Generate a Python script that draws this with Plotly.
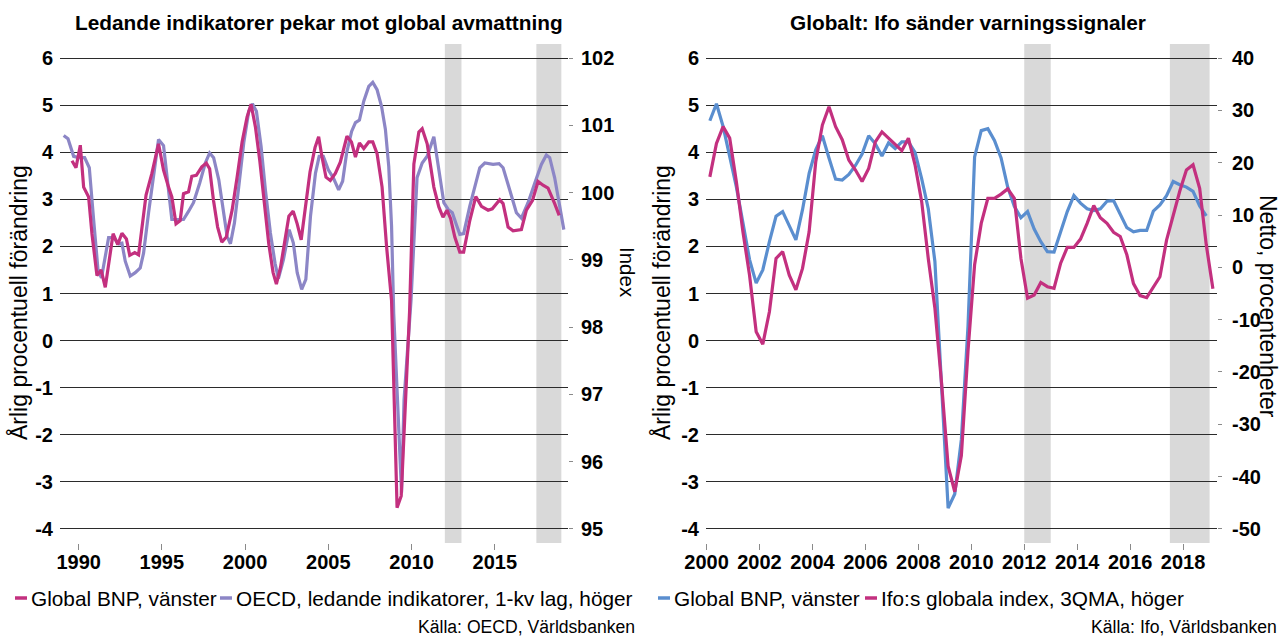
import pandas as pd
import plotly.graph_objects as go

W, H = 1282, 637

# ---------------------------------------------------------------------------
# Left panel: global GDP (annual % change) and OECD leading indicators
# (index, lagged one quarter). Points are (decimal year, value).
# ---------------------------------------------------------------------------
gdp_world_left = [
    (1989.60, 3.82), (1989.84, 3.67), (1990.10, 4.15), (1990.30, 3.26), (1990.60, 3.05),
    (1990.80, 2.27), (1991.10, 1.38), (1991.35, 1.50), (1991.60, 1.13), (1992.07, 2.27),
    (1992.35, 2.04), (1992.60, 2.28), (1992.87, 2.16), (1993.07, 1.81), (1993.37, 1.87),
    (1993.60, 1.82), (1994.05, 3.09), (1994.40, 3.55), (1994.80, 4.18), (1995.10, 3.62),
    (1995.40, 3.26), (1995.60, 3.05), (1995.85, 2.48), (1996.10, 2.55), (1996.30, 3.12),
    (1996.60, 3.16), (1996.80, 3.49), (1997.07, 3.51), (1997.40, 3.69), (1997.67, 3.77),
    (1997.87, 3.65), (1998.10, 2.98), (1998.35, 2.41), (1998.60, 2.09), (1998.87, 2.20),
    (1999.22, 2.77), (1999.52, 3.47), (1999.82, 4.22), (2000.12, 4.75), (2000.36, 5.02),
    (2000.62, 4.54), (2000.88, 3.83), (2001.16, 2.91), (2001.42, 2.06), (2001.68, 1.45),
    (2001.88, 1.20), (2002.13, 1.56), (2002.37, 2.13), (2002.63, 2.64), (2002.89, 2.75),
    (2003.13, 2.48), (2003.37, 2.14), (2003.63, 2.91), (2003.90, 3.58), (2004.20, 4.10),
    (2004.42, 4.33), (2004.62, 3.90), (2004.86, 3.47), (2005.12, 3.40), (2005.42, 3.55),
    (2005.72, 3.79), (2006.12, 4.34), (2006.39, 4.22), (2006.63, 3.90), (2006.87, 4.20),
    (2007.13, 4.08), (2007.43, 4.22), (2007.67, 4.22), (2007.93, 3.97), (2008.23, 3.26),
    (2008.50, 2.00), (2008.80, 0.85), (2009.13, -3.55), (2009.38, -3.30), (2009.88, 0.60),
    (2010.14, 3.75), (2010.44, 4.43), (2010.64, 4.50), (2010.94, 4.18), (2011.34, 3.26),
    (2011.64, 2.84), (2011.89, 2.62), (2012.13, 2.77), (2012.35, 2.59), (2012.60, 2.20),
    (2012.90, 1.88), (2013.13, 1.88), (2013.50, 2.55), (2013.86, 3.06), (2014.20, 2.85),
    (2014.60, 2.77), (2014.85, 2.80), (2015.30, 2.99), (2015.50, 2.91), (2015.80, 2.41),
    (2016.10, 2.33), (2016.60, 2.36), (2016.90, 2.77), (2017.27, 2.98), (2017.60, 3.38),
    (2017.90, 3.30), (2018.20, 3.24), (2018.60, 2.91), (2018.87, 2.66),
]

oecd_cli_lag = [
    (1989.10, 100.85), (1989.36, 100.80), (1989.70, 100.54), (1990.00, 100.52), (1990.36, 100.52),
    (1990.64, 100.37), (1990.90, 99.60), (1991.16, 98.86), (1991.37, 98.73), (1991.80, 99.33),
    (1992.10, 99.33), (1992.40, 99.24), (1992.60, 99.25), (1992.80, 98.98), (1993.10, 98.76),
    (1993.40, 98.81), (1993.70, 98.88), (1993.90, 99.10), (1994.20, 99.70), (1994.80, 100.79),
    (1995.10, 100.70), (1995.30, 100.29), (1995.60, 99.60), (1995.90, 99.60), (1996.30, 99.60),
    (1996.60, 99.72), (1996.90, 99.85), (1997.27, 100.14), (1997.61, 100.44), (1997.87, 100.59),
    (1998.11, 100.52), (1998.42, 100.19), (1998.67, 99.75), (1998.92, 99.35), (1999.12, 99.24),
    (1999.36, 99.55), (1999.62, 100.09), (1999.92, 100.74), (2000.22, 101.21), (2000.44, 101.32),
    (2000.68, 101.21), (2000.96, 100.69), (2001.22, 100.04), (2001.52, 99.40), (2001.80, 98.95),
    (2002.00, 98.72), (2002.30, 99.00), (2002.65, 99.45), (2002.90, 99.25), (2003.13, 98.81),
    (2003.40, 98.56), (2003.65, 98.71), (2003.93, 99.65), (2004.23, 100.29), (2004.45, 100.54),
    (2004.70, 100.54), (2005.00, 100.34), (2005.30, 100.22), (2005.62, 100.04), (2005.86, 100.17),
    (2006.10, 100.59), (2006.40, 100.91), (2006.63, 101.04), (2006.87, 101.08), (2007.13, 101.36),
    (2007.43, 101.58), (2007.67, 101.64), (2007.93, 101.53), (2008.20, 101.28), (2008.43, 100.94),
    (2008.63, 100.39), (2008.80, 99.50), (2008.93, 98.20), (2009.15, 96.90), (2009.40, 95.54),
    (2009.55, 96.92), (2009.97, 98.40), (2010.33, 100.22), (2010.64, 100.44), (2010.94, 100.54),
    (2011.34, 100.83), (2011.64, 100.34), (2011.94, 99.85), (2012.20, 99.75), (2012.45, 99.70),
    (2012.70, 99.52), (2012.90, 99.38), (2013.13, 99.39), (2013.50, 99.80), (2013.86, 100.14),
    (2014.10, 100.37), (2014.40, 100.44), (2014.90, 100.42), (2015.26, 100.43), (2015.50, 100.37),
    (2015.90, 100.04), (2016.30, 99.70), (2016.60, 99.62), (2017.00, 99.85), (2017.40, 100.14),
    (2017.80, 100.42), (2018.10, 100.56), (2018.30, 100.52), (2018.60, 100.22), (2018.90, 99.80),
    (2019.15, 99.45),
]

# ---------------------------------------------------------------------------
# Right panel: quarterly series starting 2000Q1
# ---------------------------------------------------------------------------
right_first_quarter = "2000Q1"

gdp_world_right = [
    4.67, 5.03, 4.55, 3.90, 3.27, 2.50, 1.72, 1.22, 1.50, 2.10,
    2.64, 2.74, 2.45, 2.14, 2.78, 3.55, 4.05, 4.35, 3.88, 3.43,
    3.41, 3.53, 3.72, 3.96, 4.35, 4.18, 3.92, 4.20, 4.08, 4.22,
    4.22, 4.00, 3.44, 2.80, 1.68, -0.90, -3.56, -3.26, -2.10, 0.30,
    3.90, 4.46, 4.50, 4.25, 3.88, 3.26, 2.85, 2.61, 2.74, 2.37,
    2.10, 1.89, 1.88, 2.31, 2.74, 3.08, 2.92, 2.80, 2.76, 2.80,
    2.96, 2.97, 2.67, 2.40, 2.31, 2.34, 2.34, 2.75, 2.88, 3.08,
    3.38, 3.31, 3.26, 3.17, 2.86, 2.65,
]

ifo_world_3qma = [
    17.3, 23.7, 26.9, 24.7, 16.4, 6.8, -1.5, -12.3, -14.7, -8.5,
    1.7, 3.0, -1.5, -4.3, -0.2, 6.8, 20.2, 27.2, 30.7, 26.9,
    24.4, 20.5, 18.6, 16.4, 18.9, 24.0, 25.9, 24.7, 23.3, 22.3,
    24.7, 19.6, 12.6, 1.7, -7.8, -22.0, -38.0, -42.9, -36.0, -16.0,
    0.5, 8.4, 13.2, 13.2, 14.0, 15.0, 13.2, 1.7, -5.9, -5.3,
    -2.9, -3.7, -4.0, 0.8, 3.8, 3.8, 5.4, 8.4, 11.8, 9.5,
    8.4, 6.7, 5.9, 2.4, -3.1, -5.4, -5.8, -3.9, -1.8, 5.2,
    9.9, 14.6, 18.6, 19.6, 15.1, 4.3, -4.1,
]

# Shaded slowdown periods (decimal years)
slowdown_periods = [(2012.0, 2013.0), (2017.5, 2019.0)]

# Axis ticks
left_year_ticks = [1990, 1995, 2000, 2005, 2010, 2015]
right_year_ticks = [2000, 2002, 2004, 2006, 2008, 2010, 2012, 2014, 2016, 2018]
gdp_ticks = [-4, -3, -2, -1, 0, 1, 2, 3, 4, 5, 6]
index_ticks = [95, 96, 97, 98, 99, 100, 101, 102]
netto_ticks = [-50, -40, -30, -20, -10, 0, 10, 20, 30, 40]

# Colours
PINK = "#C3307F"
LAVENDER = "#8C86C6"
BLUE = "#5A8ECF"
BAND = "#D9D9D9"
GRID = "#2b2b2b"
TICK = "#8a8a8a"

FONT = "Liberation Sans, Arial, sans-serif"


def quarter_mid_years(first, n):
    periods = pd.period_range(first, periods=n, freq="Q")
    return [p.year + (p.quarter - 0.5) / 4 for p in periods]


def hyphen_labels(values):
    # plain hyphen-minus for negative tick labels
    return [str(v) for v in values]


# Both panels share the same GDP scale; the secondary axes are tied to it
GDP_RANGE = [-4.3, 6.3]
# index = 95 + (gdp + 4) * 0.7  and  netto = -50 + (gdp + 4) * 9
INDEX_RANGE = [95 + (GDP_RANGE[0] + 4) * 0.7, 95 + (GDP_RANGE[1] + 4) * 0.7]
NETTO_RANGE = [-50 + (GDP_RANGE[0] + 4) * 9, -50 + (GDP_RANGE[1] + 4) * 9]


def px_x(px):
    return px / W


def px_y(py):
    return 1 - py / H


Y_DOMAIN = [px_y(543), px_y(44)]
LEFT_DOMAIN = [px_x(60), px_x(568)]
RIGHT_DOMAIN = [px_x(706), px_x(1217)]

fig = go.Figure()

# Left panel traces (CLI on the base axis so GDP is drawn on top)
fig.add_trace(go.Scatter(
    x=[d for d, _ in oecd_cli_lag], y=[v for _, v in oecd_cli_lag],
    xaxis="x", yaxis="y", mode="lines",
    line=dict(color=LAVENDER, width=3.2), name="OECD, ledande indikatorer, 1-kv lag, höger",
    showlegend=False,
))
fig.add_trace(go.Scatter(
    x=[d for d, _ in gdp_world_left], y=[v for _, v in gdp_world_left],
    xaxis="x", yaxis="y2", mode="lines",
    line=dict(color=PINK, width=3.2), name="Global BNP, vänster",
    showlegend=False,
))

# Right panel traces
fig.add_trace(go.Scatter(
    x=quarter_mid_years(right_first_quarter, len(gdp_world_right)), y=gdp_world_right,
    xaxis="x2", yaxis="y3", mode="lines",
    line=dict(color=BLUE, width=3.2), name="Global BNP, vänster",
    showlegend=False,
))
fig.add_trace(go.Scatter(
    x=quarter_mid_years(right_first_quarter, len(ifo_world_3qma)), y=ifo_world_3qma,
    xaxis="x2", yaxis="y4", mode="lines",
    line=dict(color=PINK, width=3.2), name="Ifo:s globala index, 3QMA, höger",
    showlegend=False,
))

# Shaded periods in both panels
shapes = []
for xref, yref in (("x", "y2"), ("x2", "y3")):
    for x0, x1 in slowdown_periods:
        shapes.append(dict(
            type="rect", xref=xref, yref=yref, x0=x0, x1=x1,
            y0=GDP_RANGE[0], y1=GDP_RANGE[1],
            fillcolor=BAND, line=dict(width=0), layer="below",
        ))

tick_font = dict(family=FONT, size=20, color="black", weight="bold")

xaxis_common = dict(
    showgrid=False, zeroline=False, showline=False, automargin=False,
    ticks="outside", ticklen=6, tickwidth=1, tickcolor=TICK,
    tickfont=tick_font, tickmode="array", ticklabelstandoff=-5,
)

fig.update_layout(
    width=W, height=H,
    margin=dict(l=0, r=0, t=0, b=0, autoexpand=False),
    paper_bgcolor="white", plot_bgcolor="white",
    font=dict(family=FONT, color="black"),
    xaxis=dict(domain=LEFT_DOMAIN, anchor="y", range=[1988.88, 2019.4],
               tickvals=left_year_ticks, **xaxis_common),
    yaxis=dict(domain=Y_DOMAIN, anchor="x", side="right", range=INDEX_RANGE,
               tickmode="array", tickvals=index_ticks, ticktext=hyphen_labels(index_ticks),
               showgrid=False, zeroline=False, automargin=False,
               showline=False, ticks="outside", ticklen=4, tickcolor=TICK,
               tickfont=tick_font, ticklabelstandoff=4),
    yaxis2=dict(overlaying="y", anchor="x", side="left", range=GDP_RANGE,
                tickmode="array", tickvals=gdp_ticks, ticktext=hyphen_labels(gdp_ticks),
                showgrid=True, gridcolor=GRID, automargin=False,
                gridwidth=1, zeroline=False, showline=False, ticks="",
                tickfont=tick_font, ticklabelstandoff=6),
    xaxis2=dict(domain=RIGHT_DOMAIN, anchor="y3", range=[1999.98, 2019.28],
                tickvals=right_year_ticks, **xaxis_common),
    yaxis3=dict(domain=Y_DOMAIN, anchor="x2", side="left", range=GDP_RANGE,
                tickmode="array", tickvals=gdp_ticks, ticktext=hyphen_labels(gdp_ticks),
                showgrid=True, gridcolor=GRID, automargin=False,
                gridwidth=1, zeroline=False, showline=False, ticks="",
                tickfont=tick_font, ticklabelstandoff=6),
    yaxis4=dict(overlaying="y3", anchor="x2", side="right", range=NETTO_RANGE,
                tickmode="array", tickvals=netto_ticks, ticktext=hyphen_labels(netto_ticks),
                showgrid=False, zeroline=False, automargin=False,
                showline=False, ticks="outside", ticklen=4, tickcolor=TICK,
                tickfont=tick_font, ticklabelstandoff=6),
    shapes=shapes,
)

annotations = []


def add_text(text, x, y, size=20, bold=False, angle=0, xanchor="center", yanchor="middle"):
    annotations.append(dict(
        text=text, x=px_x(x), y=px_y(y), xref="paper", yref="paper",
        showarrow=False, textangle=angle, xanchor=xanchor, yanchor=yanchor,
        font=dict(family=FONT, size=size, color="black",
                  weight="bold" if bold else "normal"),
    ))


# Titles
add_text("Ledande indikatorer pekar mot global avmattning", 319, 22, size=20.8, bold=True)
add_text("Globalt: Ifo sänder varningssignaler", 968, 22, size=20.8, bold=True)

# Axis titles
add_text("Årlig procentuell förändring", 18, 303, size=23, angle=-90)
add_text("Index", 628, 272, size=20.5, angle=90)
add_text("Årlig procentuell förändring", 661, 303, size=23, angle=-90)
add_text("Netto, procentenheter", 1268, 306, size=23, angle=90)

# Legends
legend_rows = [
    (15, 27, PINK, "Global BNP, vänster"),
    (220, 232, LAVENDER, "OECD, ledande indikatorer, 1-kv lag, höger"),
    (658, 670, BLUE, "Global BNP, vänster"),
    (865, 877, PINK, "Ifo:s globala index, 3QMA, höger"),
]
LEGEND_Y = 598
for x0, x1, color, label in legend_rows:
    fig.add_shape(type="line", xref="paper", yref="paper",
                  x0=px_x(x0), x1=px_x(x1), y0=px_y(LEGEND_Y), y1=px_y(LEGEND_Y),
                  line=dict(color=color, width=3.5))
    add_text(label, x1 + 2, LEGEND_Y, size=20.8, xanchor="left")

# Sources
add_text("Källa: OECD, Världsbanken", 637, 627, size=17.6, xanchor="right")
add_text("Källa: Ifo, Världsbanken", 1279, 627, size=17.6, xanchor="right")

fig.update_layout(annotations=annotations)

fig.write_html("out.html")
